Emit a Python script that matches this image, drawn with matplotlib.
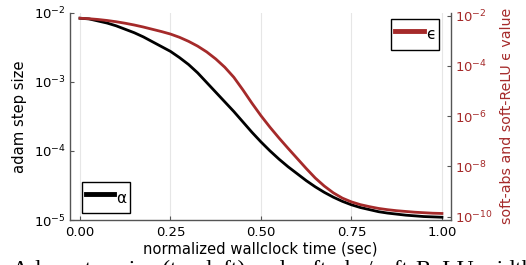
import matplotlib
matplotlib.use("Agg")
import matplotlib.pyplot as plt
import numpy as np

# normalized wallclock time
t = [0.000, 0.025, 0.050, 0.075, 0.100, 0.125, 0.150, 0.175, 0.200, 0.225,
     0.250, 0.275, 0.300, 0.325, 0.350, 0.375, 0.400, 0.425, 0.450, 0.475,
     0.500, 0.525, 0.550, 0.575, 0.600, 0.625, 0.650, 0.675, 0.700, 0.725,
     0.750, 0.775, 0.800, 0.825, 0.850, 0.875, 0.900, 0.925, 0.950, 0.975,
     1.000]

# adam step size, read as log10 values (left axis)
alpha_log10 = [-2.08, -2.09, -2.12, -2.15, -2.19, -2.24, -2.29, -2.35, -2.42, -2.49,
               -2.56, -2.65, -2.75, -2.87, -3.01, -3.15, -3.29, -3.43, -3.58, -3.73,
               -3.87, -4.00, -4.12, -4.23, -4.33, -4.43, -4.52, -4.60, -4.67, -4.73,
               -4.78, -4.82, -4.85, -4.88, -4.90, -4.915, -4.93, -4.94, -4.95, -4.955,
               -4.96]

# soft-abs / soft-ReLU epsilon, read as log10 values (right axis)
eps_log10 = [-2.10, -2.12, -2.15, -2.19, -2.24, -2.30, -2.37, -2.45, -2.54, -2.63,
             -2.73, -2.86, -3.02, -3.21, -3.44, -3.72, -4.05, -4.45, -4.95, -5.48,
             -5.98, -6.44, -6.87, -7.28, -7.68, -8.08, -8.46, -8.78, -9.05, -9.26,
             -9.41, -9.52, -9.60, -9.67, -9.72, -9.76, -9.79, -9.82, -9.84, -9.86,
             -9.87]

xticks = [0.0, 0.25, 0.5, 0.75, 1.0]
xticklabels = ["0.00", "0.25", "0.50", "0.75", "1.00"]
left_ticks = [1e-5, 1e-4, 1e-3, 1e-2]
right_ticks = [1e-10, 1e-8, 1e-6, 1e-4, 1e-2]

alpha = np.power(10.0, alpha_log10)
eps = np.power(10.0, eps_log10)

red = "#A52A2A"
spine_col = "#555555"

fig = plt.figure(figsize=(5.26, 2.65), dpi=100)
ax = fig.add_axes([70 / 526, 45 / 265, 381 / 526, 207.3 / 265])
ax2 = ax.twinx()

ax.plot(t, alpha, color="black", lw=2.0, label="α")
ax2.plot(t, eps, color=red, lw=2.0, label="ϵ")

ax.set_yscale("log")
ax2.set_yscale("log")
ax.set_xlim(-0.0276, 1.025)
ax.set_ylim(1e-5, 1e-2)
ax2.set_ylim(10 ** -10.13, 10 ** -1.88)

ax.set_xticks(xticks)
ax.set_xticklabels(xticklabels)
ax.set_yticks(left_ticks)
ax.minorticks_off()
ax2.set_yticks(right_ticks)
ax2.minorticks_off()

ax.grid(axis="x", color="#e6e6e6", lw=0.8)
ax.set_axisbelow(True)

for a in (ax, ax2):
    a.spines["top"].set_visible(False)
    for s in ("left", "bottom", "right"):
        a.spines[s].set_color(spine_col)
        a.spines[s].set_linewidth(1.0)
ax.spines["right"].set_visible(False)
ax2.spines["left"].set_visible(False)
ax2.spines["bottom"].set_visible(False)

ax.tick_params(direction="in", length=3, labelsize=9.5, color=spine_col, pad=3)
ax.tick_params(axis="x", pad=4)
ax2.tick_params(direction="in", length=3, labelsize=9.5, color=spine_col,
                labelcolor=red, pad=3)

ax.set_xlabel("normalized wallclock time (sec)", fontsize=10.6, labelpad=2)
ax.set_ylabel("adam step size", fontsize=10.6, labelpad=5)
ax2.set_ylabel("soft-abs and soft-ReLU ϵ value", fontsize=10.2, color=red, labelpad=5)

leg_kw = dict(fontsize=11, handlelength=1.85, handletextpad=0.15, borderpad=0.25,
              handleheight=1.9, borderaxespad=0, fancybox=False, framealpha=1,
              edgecolor="black")
ax.legend(loc="lower left", bbox_to_anchor=(0.031, 0.035), **leg_kw)
ax2.legend(loc="upper right", bbox_to_anchor=(0.9685, 0.968), **leg_kw)
for lg in (ax.get_legend(), ax2.get_legend()):
    lg.get_frame().set_linewidth(1.0)
    for h in lg.get_lines():
        h.set_linewidth(3.5)

# caption of the source figure, cut off at the bottom edge
fig.text(0.022, -0.04, "Adam step size (top left) and soft-abs/soft-ReLU width",
         fontsize=17, family="Liberation Serif", va="baseline", ha="left")

fig.savefig("out.png", dpi=100)
